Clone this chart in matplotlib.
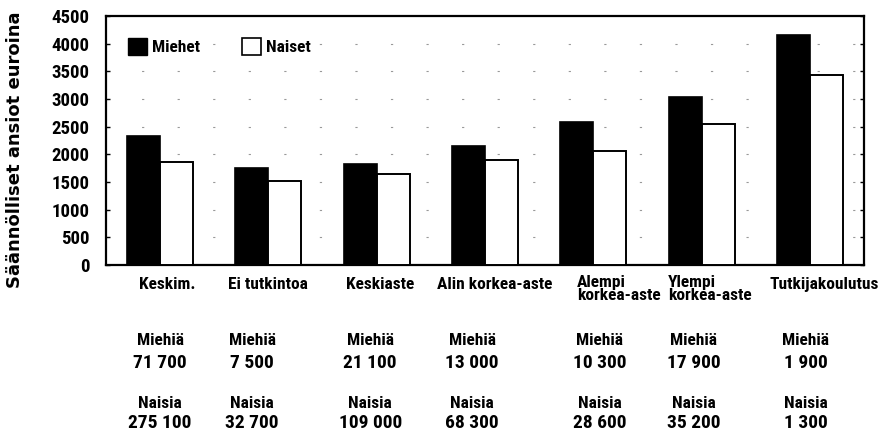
import matplotlib
matplotlib.use("Agg")
import matplotlib.pyplot as plt
from matplotlib.patches import Patch
import numpy as np

categories = ["Keskim.", "Ei tutkintoa", "Keskiaste", "Alin korkea-aste",
              "Alempi\nkorkea-aste", "Ylempi\nkorkea-aste", "Tutkijakoulutus"]
miehet = [2330, 1760, 1825, 2150, 2580, 3035, 4150]
naiset = [1855, 1520, 1645, 1900, 2060, 2555, 3440]
miehia_n = ["71 700", "7 500", "21 100", "13 000", "10 300", "17 900", "1 900"]
naisia_n = ["275 100", "32 700", "109 000", "68 300", "28 600", "35 200", "1 300"]
yticks = [0, 500, 1000, 1500, 2000, 2500, 3000, 3500, 4000, 4500]

FONT = ["Roboto Condensed", "Roboto", "DejaVu Sans"]
plt.rcParams['font.family'] = FONT

fig = plt.figure(figsize=(8.87, 4.37), dpi=100)
ax = fig.add_axes([106/887, 1-265/437, 758/887, 249/437])

x = np.arange(len(categories))
w = 0.305
ax.bar(x - w/2, miehet, width=w, color='black', edgecolor='black', linewidth=1.2, zorder=3)
ax.bar(x + w/2, naiset, width=w, color='white', edgecolor='black', linewidth=1.4, zorder=3)

ax.set_xlim(-0.5, len(categories) - 0.5)
ax.set_ylim(0, 4500)
ax.set_yticks(yticks)
ax.set_yticklabels([str(t) for t in yticks], fontsize=13.5, fontweight='bold')
ax.tick_params(axis='y', direction='in', length=3, width=1, right=True, pad=12)
ax.set_xticks([])
for s in ax.spines.values():
    s.set_linewidth(1.6)

for yv in yticks[1:-1]:
    ax.axhline(yv, color='#999999', lw=0.8, ls=(0, (2, 30)), zorder=1)

tr = ax.get_xaxis_transform()
def fy(py):
    return (265 - py) / 249.0

# category labels
cat_off = [0.07, 0.0, 0.03, 0.09, -0.15, -0.31, 0.13]
for i, c in enumerate(categories):
    if "\n" in c:
        ax.text(i + cat_off[i], fy(275), c, transform=tr,
                ha='left', va='top', fontsize=12.5, fontweight='bold',
                linespacing=0.8, clip_on=False)
    else:
        ax.text(i + cat_off[i], fy(277), c, transform=tr,
                ha='center', va='top', fontsize=12.5, fontweight='bold', clip_on=False)

col_off = [0.0, -0.15, -0.06, -0.12, 0.06, -0.07, -0.04]
for i in range(len(categories)):
    xi = i + col_off[i]
    ax.text(xi, fy(340), "Miehiä", transform=tr, ha='center', va='center',
            fontsize=12.5, fontweight='bold', clip_on=False)
    ax.text(xi, fy(363), miehia_n[i], transform=tr, ha='center', va='center',
            fontsize=14, fontweight='bold', clip_on=False)
    ax.text(xi, fy(403), "Naisia", transform=tr, ha='center', va='center',
            fontsize=12.5, fontweight='bold', clip_on=False)
    ax.text(xi, fy(423), naisia_n[i], transform=tr, ha='center', va='center',
            fontsize=14, fontweight='bold', clip_on=False)

handles = [Patch(facecolor='black', edgecolor='black', label='Miehet'),
           Patch(facecolor='white', edgecolor='black', linewidth=1.2, label='Naiset')]
leg = ax.legend(handles=handles, loc='upper left', bbox_to_anchor=(0.008, 0.975),
                ncol=2, frameon=False, handlelength=1.1, handleheight=1.1,
                handletextpad=0.3, columnspacing=2.4,
                prop={'family': FONT, 'weight': 'bold', 'size': 12.5})

fig.text(15/887, 1 - 150/437, "Säännölliset ansiot euroina", rotation=90,
         ha='center', va='center', fontsize=13, fontweight='bold',
         family=["DejaVu Sans"])

fig.savefig("out.png", dpi=100)
